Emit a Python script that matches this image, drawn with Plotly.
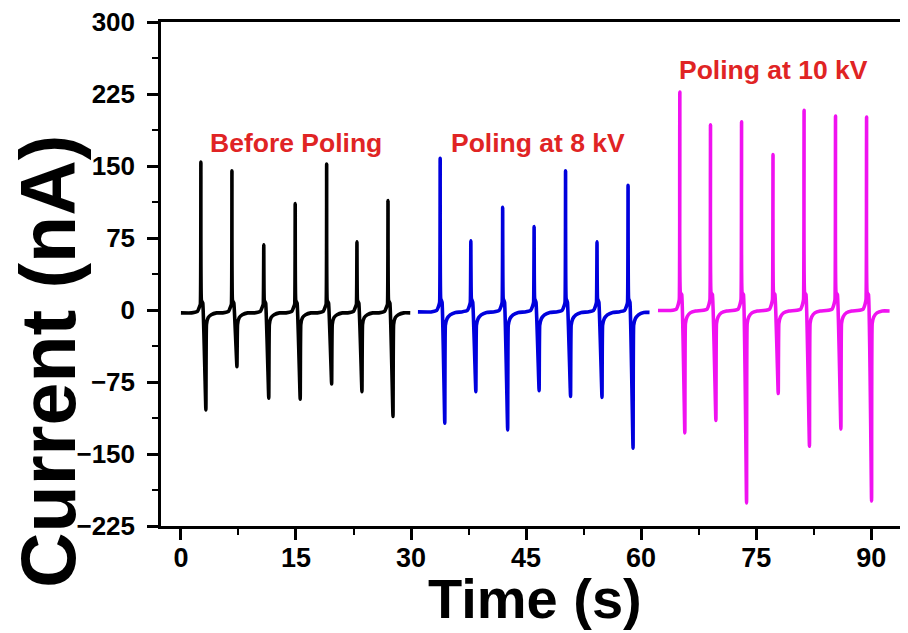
import plotly.graph_objects as go

# ---------------- data ----------------
time_ticks = [0, 15, 30, 45, 60, 75, 90]
current_ticks = [-225, -150, -75, 0, 75, 150, 225, 300]

# offsets (s) of the baseline points around each pulse:
# 4 before the positive peak, 2 after it, 4 after the negative peak
pre_peak_dt = [-1.2, -0.45, -0.2, -0.07]
post_peak_dt = [0.07, 0.25]
post_trough_dt = [0.08, 0.3, 0.7, 1.4]

# Before poling (black)
black_span = [0.0, 29.9]
black_peak_t = [2.6, 6.65, 10.8, 14.9, 19.0, 22.95, 27.0]
black_peak = [154, 145, 68, 111, 152, 71, 114]
black_trough_t = [3.25, 7.3, 11.45, 15.55, 19.65, 23.6, 27.65]
black_trough = [-104, -59, -92, -93, -77, -85, -111]
black_base = [-3, -1.5, 3, 6, 10, 7, -15, -8, -5, -3]

# Poling at 8 kV (blue)
blue_span = [30.9, 61.1]
blue_peak_t = [33.8, 37.8, 41.95, 46.05, 50.15, 54.25, 58.3]
blue_peak = [158, 72, 107, 87, 145, 71, 130]
blue_trough_t = [34.4, 38.45, 42.6, 46.7, 50.8, 54.9, 58.95]
blue_trough = [-118, -85, -125, -84, -90, -91, -144]
blue_base = [-2, -0.5, 4, 8, 12, 8, -16, -9, -5, -2.5]

# Poling at 10 kV (magenta)
mag_span = [62.2, 92.4]
mag_peak_t = [65.05, 69.05, 73.1, 77.2, 81.25, 85.35, 89.4]
mag_peak = [227, 193, 196, 162, 208, 202, 201]
mag_trough_t = [65.7, 69.75, 73.75, 77.88, 81.95, 86.05, 90.05]
mag_trough = [-128, -115, -201, -87, -142, -124, -199]
mag_base = [-0.5, 1, 6, 11, 18, 16, -14, -7, -3, -1]

labels = ["Before Poling", "Poling at 8 kV", "Poling at 10 kV"]
label_t = [15.0, 46.6, 77.3]
label_v = [174, 174, 250]


def build(span, peak_t, peak, trough_t, trough, base):
    t = [span[0]]
    v = [base[0]]
    for tp, p, tn, n in zip(peak_t, peak, trough_t, trough):
        for dt, b in zip(pre_peak_dt, base[0:4]):
            t.append(tp + dt); v.append(b)
        t.append(tp); v.append(p)
        for dt, b in zip(post_peak_dt, base[4:6]):
            t.append(tp + dt); v.append(b)
        t.append(tn); v.append(n)
        for dt, b in zip(post_trough_dt, base[6:10]):
            t.append(tn + dt); v.append(b)
    t.append(span[1]); v.append(base[9])
    return t, v


FONT = "Liberation Sans, Arial, Helvetica, sans-serif"

fig = go.Figure()
series = [
    (black_span, black_peak_t, black_peak, black_trough_t, black_trough, black_base, "#000000", "Before Poling"),
    (blue_span, blue_peak_t, blue_peak, blue_trough_t, blue_trough, blue_base, "#0000dd", "Poling at 8 kV"),
    (mag_span, mag_peak_t, mag_peak, mag_trough_t, mag_trough, mag_base, "#f012f0", "Poling at 10 kV"),
]
for span, pt, p, tt, tr, base, col, name in series:
    t, v = build(span, pt, p, tt, tr, base)
    fig.add_trace(go.Scatter(x=t, y=v, mode="lines", name=name,
                             line=dict(color=col, width=3.6, shape="spline", smoothing=0.3)))

for txt, lt, lv in zip(labels, label_t, label_v):
    fig.add_annotation(x=lt, y=lv, xref="x", yref="y", text=txt, showarrow=False,
                       font=dict(family=FONT, size=26.5, color="#e02424", weight="bold"))

# axis titles
fig.add_annotation(x=0.5, y=0, xref="paper", yref="paper", text="Time (s)", showarrow=False,
                   yanchor="middle", yshift=-72,
                   font=dict(family=FONT, size=56, color="black", weight="bold"))
fig.add_annotation(x=0, y=0.5, xref="paper", yref="paper", text="Current (nA)", showarrow=False,
                   xanchor="center", yanchor="middle", xshift=-113, yshift=-88, textangle=-90,
                   font=dict(family=FONT, size=77, color="black", weight="bold"))

axis_common = dict(showline=True, linecolor="black", linewidth=2.5, ticks="outside",
                   tickwidth=2.5, ticklen=11, tickcolor="black", showgrid=False, zeroline=False,
                   automargin=False, ticklabeloverflow="allow")

fig.update_xaxes(range=[-2.6, 94.8], tickvals=time_ticks, mirror=True, ticklabelstandoff=-5,
                 minor=dict(ticks="outside", ticklen=6, tickwidth=2, tickcolor="black", dtick=7.5, tick0=0),
                 tickfont=dict(family=FONT, size=27, color="black", weight="bold"), **axis_common)
fig.update_yaxes(range=[-225, 300], tickvals=current_ticks, mirror=False, ticklabelstandoff=7,
                 minor=dict(ticks="outside", ticklen=6, tickwidth=2, tickcolor="black", dtick=37.5, tick0=0),
                 tickfont=dict(family=FONT, size=26, color="black", weight="bold"), **axis_common)

# the page adds an 8 px body margin, so the figure is 8 px smaller and shifted accordingly
fig.update_layout(width=900, height=625, margin=dict(l=153, r=0, t=14, b=107, autoexpand=False),
                  plot_bgcolor="white", paper_bgcolor="white", showlegend=False)

fig.write_html("out.html")
